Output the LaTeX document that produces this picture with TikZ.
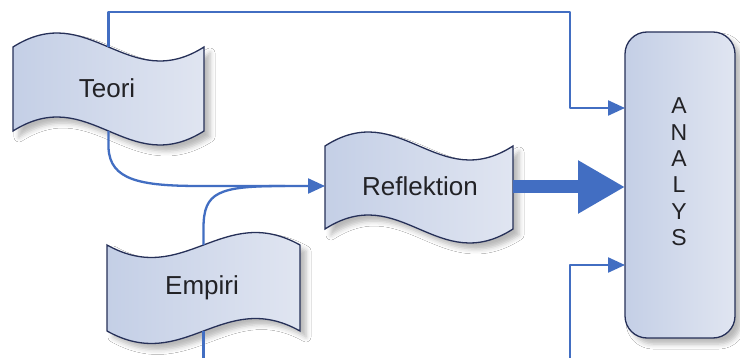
\documentclass[tikz,border=0pt]{standalone}
\usepackage{fontspec}
\setmainfont{Liberation Sans}
\usetikzlibrary{arrows.meta,shadows.blur}

\definecolor{tapeleft}{RGB}{196,207,230}
\definecolor{taperight}{RGB}{224,229,241}
\definecolor{tapeborder}{RGB}{38,48,88}
\definecolor{linkblue}{RGB}{66,110,194}
\definecolor{labelgray}{RGB}{34,34,38}

\tikzset{
  tapefill/.style={draw=tapeborder, line width=1.3pt,
    left color=tapeleft, right color=taperight,
    blur shadow={shadow xshift=6pt, shadow yshift=-6pt,
      shadow blur radius=5pt, shadow opacity=28}},
  tapelabel/.style={font=\fontsize{26}{30}\selectfont, text=labelgray, inner sep=0pt},
  analysbox/.style={draw=tapeborder, line width=1.3pt, rounded corners=22pt,
    minimum width=110pt, minimum height=306pt, inner sep=0pt,
    left color=tapeleft, right color=taperight,
    blur shadow={shadow xshift=6pt, shadow yshift=-6pt,
      shadow blur radius=5pt, shadow opacity=28}},
  letterstack/.style={font=\fontsize{23}{26.4}\selectfont, text=labelgray,
    align=center, inner sep=0pt},
  link/.style={draw=linkblue, line width=2.3pt, line join=round},
  linktip/.style={-{Triangle[length=17pt,width=15pt]}},
  bigarrow/.style={draw=linkblue, line width=13pt,
    -{Triangle[length=47pt,width=50pt]}}
}

% punched-tape outline: left x, right x, top mid y, bottom mid y, wave amplitude
\newcommand{\tapeoutline}[5]{%
  \path[tapefill] (#1,#3)
    .. controls ({#1+0.4*(#2-#1)},{#3-3.46*#5}) and ({#1+0.6*(#2-#1)},{#3+3.46*#5}) .. (#2,#3)
    -- (#2,#4)
    .. controls ({#1+0.6*(#2-#1)},{#4+3.46*#5}) and ({#1+0.4*(#2-#1)},{#4-3.46*#5}) .. (#1,#4)
    -- cycle;}

\begin{document}
\begin{tikzpicture}[x=1pt, y=-1pt]
  \useasboundingbox (0,0) rectangle (740,358);
  \fill[white] (0,0) rectangle (740,358);
  \clip (0,0) rectangle (740,358);

  % tapes
  \tapeoutline{13}{204}{47}{131}{14}
  \tapeoutline{325}{513}{146}{229}{14}
  \tapeoutline{107}{300}{245}{331}{-12.5}

  \node[tapelabel] (teori) at (107,88) {Teori};
  \node[tapelabel] (refl) at (420,186) {Reflektion};
  \node[tapelabel] (empiri) at (202,288) {Empiri};

  % analysis column
  \node[analysbox] (analys) at (680,185) {};
  \node[letterstack] (analystext) at (679,172) {A\\N\\A\\L\\Y\\S};

  % connection points
  \coordinate (teoriTop) at (108.5,47);
  \coordinate (teoriBot) at (108.5,131);
  \coordinate (empiriTop) at (203.5,245);
  \coordinate (empiriBot) at (203.5,331);
  \coordinate (reflIn) at (325,186);
  \coordinate (reflOut) at (513,187);
  \coordinate (railTop) at (570,12);
  \coordinate (railBot) at (570,380);
  \coordinate (inTop) at (625,108);
  \coordinate (inMid) at (625,187);
  \coordinate (inBot) at (625,265);

  % connectors
  \draw[link, linktip] (teoriTop) |- (railTop) |- (inTop);
  \draw[link, linktip] (empiriBot) |- (railBot) |- (inBot);
  \draw[link, linktip] (teoriBot) -- (108.5,148)
    .. controls (110,180) and (140,186) .. (200,186) -- (reflIn);
  \draw[link] (empiriTop) -- (203.5,228)
    .. controls (203.5,192) and (218,186) .. (285,186);
  \draw[bigarrow] (reflOut) -- (inMid);
\end{tikzpicture}
\end{document}
